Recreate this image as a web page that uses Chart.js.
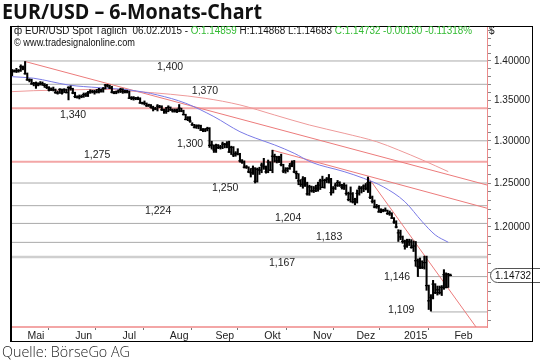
<!DOCTYPE html>
<html><head><meta charset="utf-8">
<script src="https://cdn.jsdelivr.net/npm/chart.js@4.4.1/dist/chart.umd.min.js"></script>
<style>
html,body{margin:0;padding:0;background:#fff;width:540px;height:362px;overflow:hidden}
#wrap{position:relative;width:540px;height:362px}
#c{position:absolute;left:0;top:0}
.t{position:absolute;white-space:nowrap;transform-origin:0 0}
#title{left:2px;top:-2px;font:700 21px "Open Sans";line-height:26px;color:#111}
#hdr1{left:14px;top:25px;font:10px "Liberation Sans",Arial;line-height:12px;color:#111}
#hdr2{left:14px;top:37px;font:10px "Liberation Sans",Arial;line-height:12px;color:#111}
.g{color:#33bb33}
#src{left:2px;top:341px;font:300 15px "Open Sans";line-height:20px;color:#222}
#frame{position:absolute;left:10px;top:26px;width:520px;height:314px;border:1px solid #000;border-left:2px solid #000;pointer-events:none}
</style></head>
<body><div id="wrap">
<canvas id="c" width="540" height="362"></canvas>
<div id="frame"></div>
<div id="title" class="t">EUR/USD – 6-Monats-Chart</div>
<div id="hdr1" class="t">ф EUR/USD Spot Täglich&nbsp; 06.02.2015 - <span class="g">O:1.14859</span> H:1.14868 L:1.14683 <span class="g">C:1.14732 -0.00130 -0.11318%</span></div>
<div id="hdr2" class="t">© www.tradesignalonline.com</div>
<div id="src" class="t">Quelle: BörseGo AG</div>
</div>
<script>
// ---- data (trading-day index 0 = 30.04.2014 ... 202 = 06.02.2015) ----
const closes = [
 1.3867,1.3870,1.3872,1.3875,1.3925,1.3910,1.3835,1.3757,1.3755,1.3705,1.3710,1.3710,1.3695,1.3710,1.3705,1.3685,1.3660,1.3628,1.3640,1.3630,1.3595,1.3590,1.3635,
 1.3590,1.3630,1.3595,1.3660,1.3645,1.3590,1.3545,1.3535,1.3545,1.3545,1.3570,1.3565,1.3595,1.3610,1.3605,1.3605,1.3605,1.3630,1.3615,1.3645,1.3690,
 1.3680,1.3655,1.3600,1.3590,1.3605,1.3615,1.3635,1.3610,1.3605,1.3605,1.3525,1.3530,1.3522,1.3527,1.3515,1.3465,1.3465,1.3460,1.3430,1.3440,1.3410,1.3395,1.3390,
 1.3425,1.3415,1.3380,1.3375,1.3360,1.3410,1.3380,1.3365,1.3368,1.3360,1.3400,1.3365,1.3320,1.3260,1.3280,1.3240,1.3195,1.3165,1.3180,1.3182,1.3130,
 1.3130,1.3132,1.3150,1.2945,1.2950,1.2890,1.2945,1.2920,1.2925,1.2960,1.2955,1.2960,1.2865,1.2920,1.2830,1.2850,1.2840,1.2760,1.2745,1.2685,1.2687,1.2630,
 1.2620,1.2670,1.2520,1.2660,1.2650,1.2710,1.2690,1.2630,1.2745,1.2650,1.2815,1.2810,1.2760,1.2800,1.2715,1.2640,1.2650,1.2670,1.2700,1.2735,1.2630,1.2610,1.2525,
 1.2485,1.2545,1.2490,1.2375,1.2455,1.2410,1.2412,1.2440,1.2475,1.2525,1.2450,1.2530,1.2545,1.2547,1.2390,1.2440,1.2475,1.2505,1.2475,1.2450,
 1.2470,1.2380,1.2310,1.2375,1.2285,1.2310,1.2380,1.2440,1.2442,1.2465,1.2440,1.2505,1.2335,1.2290,1.2225,1.2230,1.2170,1.2185,1.2183,1.2187,1.2150,1.2155,1.2100,
 1.2055,1.2000,1.1935,1.1890,1.1840,1.1790,1.1840,1.1835,1.1775,1.1790,1.1630,1.1565,1.1620,1.1560,1.1610,1.1365,1.1205,1.1240,1.1380,1.1290,1.1320,1.1290,
 1.1345,1.1480,1.1345,1.1480,1.1473];
const highs = [
 1.3890,1.3885,1.3905,1.3890,1.3950,1.3935,1.3993,1.3845,1.3770,1.3765,1.3725,1.3730,1.3720,1.3735,1.3730,1.3710,1.3700,1.3670,1.3655,1.3665,1.3640,1.3615,1.3645,
 1.3640,1.3645,1.3640,1.3670,1.3680,1.3650,1.3600,1.3555,1.3565,1.3565,1.3590,1.3590,1.3610,1.3630,1.3625,1.3625,1.3635,1.3650,1.3640,1.3660,1.3700,
 1.3700,1.3690,1.3675,1.3610,1.3615,1.3630,1.3650,1.3645,1.3625,1.3625,1.3615,1.3545,1.3545,1.3535,1.3540,1.3530,1.3475,1.3490,1.3465,1.3450,1.3445,1.3425,1.3410,
 1.3445,1.3435,1.3430,1.3390,1.3410,1.3430,1.3415,1.3390,1.3390,1.3390,1.3445,1.3400,1.3375,1.3325,1.3295,1.3295,1.3220,1.3200,1.3195,1.3195,1.3190,
 1.3150,1.3150,1.3165,1.3160,1.2995,1.2950,1.2960,1.2955,1.2945,1.2985,1.2970,1.2990,1.2995,1.2935,1.2930,1.2870,1.2905,1.2850,1.2775,1.2760,1.2705,1.2690,
 1.2670,1.2700,1.2680,1.2675,1.2685,1.2735,1.2790,1.2700,1.2770,1.2750,1.2887,1.2840,1.2815,1.2815,1.2840,1.2720,1.2680,1.2680,1.2730,1.2760,1.2765,1.2640,1.2610,
 1.2540,1.2575,1.2565,1.2510,1.2475,1.2465,1.2460,1.2475,1.2510,1.2545,1.2580,1.2545,1.2565,1.2600,1.2555,1.2460,1.2500,1.2530,1.2515,1.2485,
 1.2500,1.2480,1.2395,1.2455,1.2390,1.2325,1.2420,1.2465,1.2460,1.2480,1.2495,1.2570,1.2515,1.2350,1.2305,1.2255,1.2245,1.2205,1.2200,1.2215,1.2190,1.2180,1.2160,
 1.2105,1.2070,1.1970,1.1965,1.1900,1.1855,1.1865,1.1865,1.1860,1.1845,1.1840,1.1650,1.1660,1.1630,1.1680,1.1680,1.1370,1.1270,1.1420,1.1385,1.1360,1.1360,
 1.1365,1.1534,1.1500,1.1495,1.1487];
const lows = [
 1.3810,1.3855,1.3850,1.3855,1.3865,1.3885,1.3830,1.3750,1.3730,1.3700,1.3680,1.3648,1.3680,1.3690,1.3685,1.3660,1.3645,1.3615,1.3620,1.3615,1.3585,1.3575,1.3585,
 1.3575,1.3595,1.3590,1.3503,1.3625,1.3580,1.3530,1.3525,1.3515,1.3530,1.3535,1.3545,1.3545,1.3585,1.3590,1.3575,1.3590,1.3590,1.3600,1.3600,1.3640,
 1.3665,1.3645,1.3590,1.3580,1.3580,1.3590,1.3595,1.3585,1.3590,1.3590,1.3520,1.3505,1.3500,1.3505,1.3505,1.3460,1.3450,1.3440,1.3420,1.3420,1.3400,1.3365,1.3380,
 1.3365,1.3405,1.3370,1.3335,1.3335,1.3355,1.3370,1.3350,1.3350,1.3345,1.3355,1.3355,1.3315,1.3255,1.3245,1.3225,1.3185,1.3155,1.3150,1.3145,1.3125,
 1.3110,1.3110,1.3120,1.2920,1.2900,1.2860,1.2860,1.2905,1.2900,1.2905,1.2915,1.2915,1.2860,1.2835,1.2810,1.2815,1.2830,1.2745,1.2730,1.2675,1.2670,1.2620,
 1.2570,1.2600,1.2500,1.2510,1.2600,1.2620,1.2660,1.2615,1.2620,1.2645,1.2620,1.2745,1.2735,1.2740,1.2700,1.2620,1.2615,1.2630,1.2660,1.2690,1.2620,1.2550,1.2480,
 1.2460,1.2440,1.2460,1.2360,1.2358,1.2395,1.2390,1.2400,1.2405,1.2425,1.2445,1.2440,1.2505,1.2500,1.2360,1.2385,1.2425,1.2460,1.2460,1.2430,
 1.2425,1.2360,1.2295,1.2280,1.2270,1.2250,1.2270,1.2360,1.2385,1.2400,1.2420,1.2390,1.2320,1.2270,1.2215,1.2210,1.2165,1.2160,1.2170,1.2175,1.2140,1.2130,1.2095,
 1.2040,1.1990,1.1840,1.1860,1.1820,1.1755,1.1775,1.1795,1.1765,1.1730,1.1570,1.1460,1.1545,1.1545,1.1540,1.1315,1.1115,1.1098,1.1225,1.1280,1.1265,1.1275,
 1.1260,1.1325,1.1340,1.1345,1.1468];

// moving averages: [trading-day index, price]
const maBlue = [[0,1.3797],[10,1.3777],[26,1.3691],[40,1.3657],[54,1.3628],[67,1.3565],[80,1.3461],[93,1.3295],[105,1.3110],[112,1.3034],[121,1.2950],[130,1.2850],[138,1.2743],[153,1.2633],[162,1.2555],[171,1.2457],[181,1.2285],[189,1.2059],[195,1.1912],[201,1.1831]];
const maRed  = [[0,1.3607],[10,1.3619],[26,1.3628],[42,1.3637],[58,1.3607],[73,1.3574],[89,1.3523],[105,1.3440],[121,1.3315],[137,1.3192],[153,1.3091],[168,1.2989],[178,1.2890],[189,1.2771],[201,1.2633]];

// trendlines [index, price] -> [index, price]
const trend1 = [[6,1.3993],[218.85,1.2477]];
const trend2 = [[120,1.2887],[218.85,1.2211]];
const trend3 = [[164,1.2570],[213.8,1.0936]];

// horizontal levels
const levels      = [1.400, 1.370, 1.340, 1.300, 1.275, 1.250, 1.224, 1.204, 1.183, 1.167, 1.146, 1.109];
const levelLabels = ['1,400','1,370','1,340','1,300','1,275','1,250','1,224','1,204','1,183','1,167','1,146','1,109'];
const levelFrom   = [-0.5, -0.5, -0.5, 90, -0.5, -0.5, -0.5, -0.5, -0.5, -0.5, 187, 193];

// axis ticks
const monthStarts = [1, 23, 44, 67, 88, 110, 133, 153, 176, 198];
const monthLabels = ['Mai','Jun','Jul','Aug','Sep','Okt','Nov','Dez','2015','Feb'];
const yMinor = [1.10,1.11,1.12,1.13,1.14,1.15,1.16,1.17,1.18,1.19,1.20,1.21,1.22,1.23,1.24,1.25,1.26,1.27,1.28,1.29,1.30,1.31,1.32,1.33,1.34,1.35,1.36,1.37,1.38,1.39,1.40,1.41,1.42,1.43,1.44];
const yLabelled = [1.15,1.20,1.25,1.30,1.35,1.40];
const lastPrice = 1.14732;

// ---- styles / annotation placement ----
const X_MAX = 218.85, Y_MIN = 1.0936, Y_MAX = 1.4462;
const levelStyle = {
  '1.34':{c:'#f3a6a6',w:2}, '1.275':{c:'#f3a6a6',w:2}, '1.167':{c:'#cfcfcf',w:2.5}
};
const textAt = { // label anchor [index, price]
  '1,400':[72.8,1.3922],'1,370':[88.9,1.3615],'1,340':[28.1,1.3315],'1,300':[82.0,1.2961],
  '1,275':[39.2,1.2830],'1,250':[98.2,1.2443],'1,224':[67.3,1.2180],'1,204':[127.2,1.2101],
  '1,183':[146.1,1.1889],'1,167':[124.4,1.1606],'1,146':[177.4,1.1456],'1,109':[179.3,1.1111]
};

const datasets = [];
datasets.push({type:'bar', data: highs.map((h,i)=>({x:i, y:[lows[i], h]})), backgroundColor:'#000', barThickness:1.4, order:0, grouped:false});
datasets.push({type:'line', data: closes.map((c,i)=>({x:i, y:c})), showLine:false, pointStyle:'line', pointRadius:1.6, borderColor:'#000', borderWidth:1.2, order:0});
const lineDs = (pts, color, w, tension, order) => ({type:'line', data: pts.map(p=>({x:p[0], y:p[1]})), borderColor:color, borderWidth:w, pointRadius:0, tension:tension, cubicInterpolationMode: tension? 'monotone':'default', fill:false, order:order});
datasets.push(lineDs(maBlue, '#7a7ae6', 1, 0.4, 1));
datasets.push(lineDs(maRed, '#ee9a9a', 1, 0.4, 1));
datasets.push(lineDs(trend1, '#ec7b7b', 1, 0, 1));
datasets.push(lineDs(trend2, '#ec7b7b', 1, 0, 1));
datasets.push(lineDs(trend3, '#ec7b7b', 1, 0, 1));
levels.forEach((lv,i)=>{
  const st = levelStyle[String(lv)] || {c:'#aaaaaa', w:1};
  datasets.push(lineDs([[levelFrom[i], lv],[X_MAX, lv]], st.c, st.w, 0, 3));
});

const textPlugin = {
  id:'txt',
  afterDatasetsDraw(chart){
    const {ctx, scales:{x, y}} = chart;
    ctx.save();
    ctx.font = '10.5px "Liberation Sans", Arial';
    ctx.fillStyle = '#222'; ctx.textAlign = 'center'; ctx.textBaseline = 'middle';
    levelLabels.forEach(t=>{ const a = textAt[t]; ctx.fillText(t, x.getPixelForValue(a[0]), y.getPixelForValue(a[1])); });
    ctx.restore();
  },
  afterDraw(chart){
    const {ctx, scales:{y}, chartArea} = chart;
    ctx.save();
    const py = Math.round(y.getPixelForValue(lastPrice)) + 0.5;
    const x0 = chartArea.right + 3.5, x1 = 548, h = 7;
    ctx.beginPath();
    ctx.moveTo(x0 + h, py - h); ctx.lineTo(x1, py - h); ctx.lineTo(x1, py + h); ctx.lineTo(x0 + h, py + h);
    ctx.arc(x0 + h, py, h, Math.PI/2, Math.PI*1.5);
    ctx.closePath();
    ctx.fillStyle = '#fff'; ctx.fill();
    ctx.strokeStyle = '#555'; ctx.lineWidth = 1; ctx.stroke();
    ctx.font = '10px "Liberation Sans", Arial'; ctx.fillStyle = '#111';
    ctx.textAlign = 'left'; ctx.textBaseline = 'middle';
    ctx.fillText(lastPrice.toFixed(5), chartArea.right + 8, py + 0.5);
    ctx.fillText('$', chartArea.right + 2, 31);
    ctx.restore();
  }
};

new Chart(document.getElementById('c'), {
  type:'bar',
  data:{datasets},
  plugins:[textPlugin],
  options:{
    responsive:false, animation:false, devicePixelRatio:1,
    layout:{padding:{left:11, top:26, right:0, bottom:0}},
    plugins:{legend:{display:false}, tooltip:{enabled:false}},
    scales:{
      x:{type:'linear', min:-0.5, max:X_MAX, offset:false,
        afterFit(s){ s.height = 35; },
        afterBuildTicks(s){
          const t = [];
          monthStarts.forEach((m,i)=>{ t.push({value:m}); t.push({value:m+10}); });
          s.ticks = t;
        },
        ticks:{autoSkip:false, maxRotation:0, minRotation:0, padding:0, color:'#222',
          font:{family:'"Liberation Sans", Arial', size:10.5},
          callback(v){ const i = monthStarts.indexOf(v-10); return i>=0 ? monthLabels[i] : ''; }},
        grid:{drawOnChartArea:false, drawTicks:true, tickLength:3,
          tickColor:(c)=> (c.tick && monthStarts.includes(c.tick.value)) ? '#777' : 'rgba(0,0,0,0)'},
        border:{display:true, color:'#f3a6a6', width:2}
      },
      y:{type:'logarithmic', position:'right', min:Y_MIN, max:Y_MAX,
        afterFit(s){ s.width = 53; },
        afterBuildTicks(s){ s.ticks = yMinor.map(v=>({value:v})); },
        ticks:{autoSkip:false, padding:3, color:'#222',
          font:{family:'"Liberation Sans", Arial', size:10},
          callback(v){ return yLabelled.some(l=>Math.abs(l-v)<1e-6) ? v.toFixed(5) : ''; }},
        grid:{drawOnChartArea:false, drawTicks:true, tickLength:4, tickColor:'#888'},
        border:{display:true, color:'#ec8a8a', width:1}
      }
    }
  }
});

function fit(id, w){ const el = document.getElementById(id); const r = el.getBoundingClientRect().width; el.style.transform = 'scaleX(' + (w/r) + ')'; }
fit('title', 260); fit('hdr1', 458); fit('hdr2', 121); fit('src', 128);
</script>
</body></html>
